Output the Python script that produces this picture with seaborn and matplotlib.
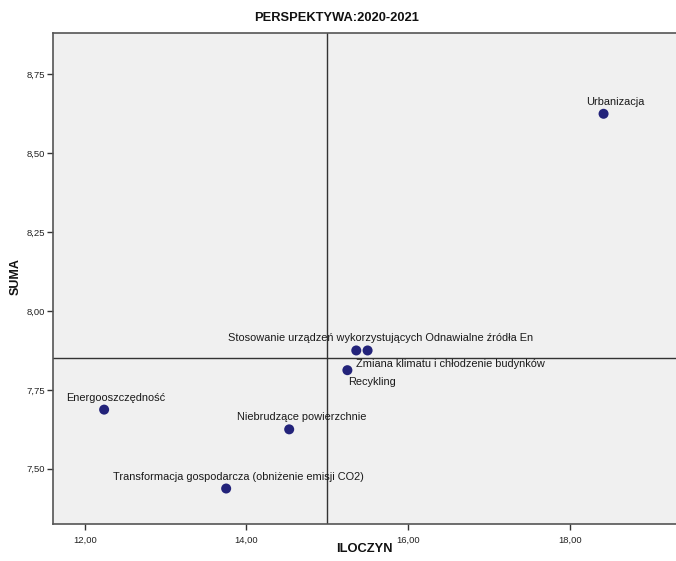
import matplotlib
matplotlib.use("Agg")
import matplotlib.pyplot as plt
import seaborn as sns
import pandas as pd

# ---- data ----
labels = [
    "Urbanizacja",
    "Stosowanie urządzeń wykorzystujących Odnawialne źródła En",
    "Zmiana klimatu i chłodzenie budynków",
    "Recykling",
    "Energooszczędność",
    "Niebrudzące powierzchnie",
    "Transformacja gospodarcza (obniżenie emisji CO2)",
]
iloczyn = [18.42, 15.50, 15.36, 15.25, 12.24, 14.53, 13.75]
suma = [8.625, 7.875, 7.875, 7.8125, 7.6875, 7.625, 7.4375]
ref_x = 15.0
ref_y = 7.85
x_ticks = [12, 14, 16, 18]
y_ticks = [7.50, 7.75, 8.00, 8.25, 8.50, 8.75]
title = "PERSPEKTYWA:2020-2021"
x_label = "ILOCZYN"
y_label = "SUMA"

df = pd.DataFrame({"label": labels, "ILOCZYN": iloczyn, "SUMA": suma})

# ---- style ----
sns.set_style("white", {"axes.facecolor": "#F0F0F0"})
plt.rcParams["font.family"] = ["Liberation Sans", "DejaVu Sans"]

fig = plt.figure(figsize=(6.76, 5.61), dpi=100)
ax = fig.add_axes([53.3 / 676, 1 - 523.7 / 561, 1 - 53.3 / 676 + 0.01, (523.7 - 33) / 561])

sns.scatterplot(data=df, x="ILOCZYN", y="SUMA", ax=ax, color="#23237A",
                s=52, edgecolor="none", zorder=3)

ax.axvline(ref_x, color="#333333", lw=1.0, zorder=2)
ax.axhline(ref_y, color="#333333", lw=1.0, zorder=2)

ax.set_xlim(11.611, 19.40)
ax.set_ylim(7.326, 8.881)

# label offsets in pixels (dx, dy) relative to each point
offsets = [(12, 12), (13, 12.5), (94, -13.5), (25, -12), (12, 12), (12, 12), (12, 12)]
for (lab, xv, yv), (dx, dy) in zip(zip(labels, iloczyn, suma), offsets):
    ax.annotate(lab, (xv, yv), xytext=(dx, dy), textcoords="offset pixels",
                ha="center", va="center", fontsize=7.9, color="#1a1a1a", zorder=4)

ax.set_xticks(x_ticks)
ax.set_xticklabels([f"{v:.2f}".replace(".", ",") for v in x_ticks])
ax.set_yticks(y_ticks)
ax.set_yticklabels([f"{v:.2f}".replace(".", ",") for v in y_ticks])
ax.tick_params(axis="both", labelsize=6.8, colors="#333333", length=4, width=1,
               direction="out", bottom=True, left=True)
ax.tick_params(axis="x", pad=5)
ax.tick_params(axis="y", pad=2)
for t in ax.get_xticklabels() + ax.get_yticklabels():
    t.set_color("#222222")

for side in ["left", "bottom", "top"]:
    ax.spines[side].set_color("#555555")
    ax.spines[side].set_linewidth(1.2)
ax.spines["right"].set_visible(False)

ax.set_xlabel(x_label, fontsize=9.3, fontweight="bold", color="#111111")
ax.set_ylabel(y_label, fontsize=9.0, fontweight="bold", color="#111111")
ax.xaxis.set_label_coords(364 / 676, 1 - 549 / 561, transform=fig.transFigure)
ax.xaxis.label.set_va("center")
ax.yaxis.set_label_coords(16 / 676, 1 - 277 / 561, transform=fig.transFigure)
ax.yaxis.label.set_va("center")
fig.text(337 / 676, 1 - 18 / 561, title, ha="center", va="center",
         fontsize=9.3, fontweight="bold", color="#111111")

fig.savefig("out.png", dpi=100)
